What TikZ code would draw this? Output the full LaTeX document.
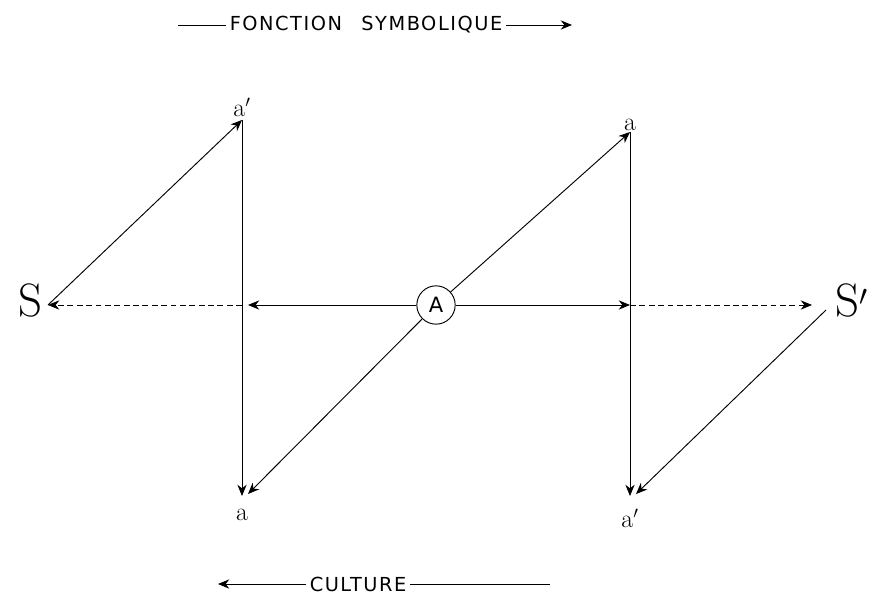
\documentclass[tikz,border=0pt]{standalone}
\usepackage{fontspec}
\setsansfont{DejaVu Sans}
\newfontfamily\handfont[LetterSpace=8]{DejaVu Sans}
\usetikzlibrary{arrows.meta,positioning,calc}

\begin{document}
\begin{tikzpicture}[x=0.03cm, y=-0.03cm, font=\sffamily,
  arr/.style={-{Stealth[length=3.4mm, width=2.8mm]}, thick},
  dsh/.style={arr, semithick, dash pattern=on 5pt off 3pt},
  lbl/.style={inner sep=1pt, font=\fontsize{22}{22}\selectfont},
  big/.style={inner sep=1pt, font=\rmfamily\fontsize{40}{40}\selectfont},
  captxt/.style={inner sep=3pt, font=\handfont\fontsize{16.5}{16.5}\selectfont}]
  \useasboundingbox (0,0) rectangle (881,600);
  % end points
  \coordinate (tl) at (242,120);
  \coordinate (bl) at (242,496);
  \coordinate (tr) at (630,132);
  \coordinate (br) at (630,496);
  \coordinate (ml) at (242,305);
  \coordinate (mr) at (630,305);
  \coordinate (sl) at (48,305);
  \coordinate (sr) at (812,305);
  \coordinate (sr0) at (826,310);
  % nodes
  \node[big] (S) at (30,300) {S};
  \node[big] (Sp) at (852,300) {S$'$};
  \node[draw, circle, thick, minimum size=11.5mm, inner sep=0pt, font=\sffamily\fontsize{18}{18}\selectfont] (A) at (436,305) {A};
  \node[lbl, above=2pt of tl] (apL) {a$'$};
  \node[lbl, above=0pt of tr] (aR) {a};
  \node[lbl, below=10pt of bl] (aL) {a};
  \node[lbl, below=10pt of br] (apR) {a$'$};
  % verticals
  \draw[arr] (tl) -- (bl);
  \draw[arr] (tr) -- (br);
  % left triangle
  \draw[arr] (sl) -- (tl);
  \draw[dsh] (ml) -- (sl);
  \draw[arr] (A) -- ($(ml)+(6,0)$);
  % right triangle
  \draw[arr] (A) -- (mr);
  \draw[dsh] (mr) -- (sr);
  \draw[arr] (sr0) -- ($(br)+(6,-2)$);
  % diagonal through A
  \draw[arr] (A) -- (tr);
  \draw[arr] (A) -- ($(bl)+(6,-2)$);
  % captions
  \node[captxt, anchor=west] (fs) at (226,25) {FONCTION\quad SYMBOLIQUE};
  \coordinate (fsl) at (178,25);
  \coordinate (fsr) at (572,25);
  \draw[semithick] (fsl) -- (fs.west);
  \draw[arr] (fs.east) -- (fsr);
  \node[captxt, anchor=west] (cu) at (306,584) {CULTURE};
  \coordinate (cul) at (218,584);
  \coordinate (cur) at (550,584);
  \draw[arr] (cu.west) -- (cul);
  \draw[semithick] (cu.east) -- (cur);
\end{tikzpicture}
\end{document}
